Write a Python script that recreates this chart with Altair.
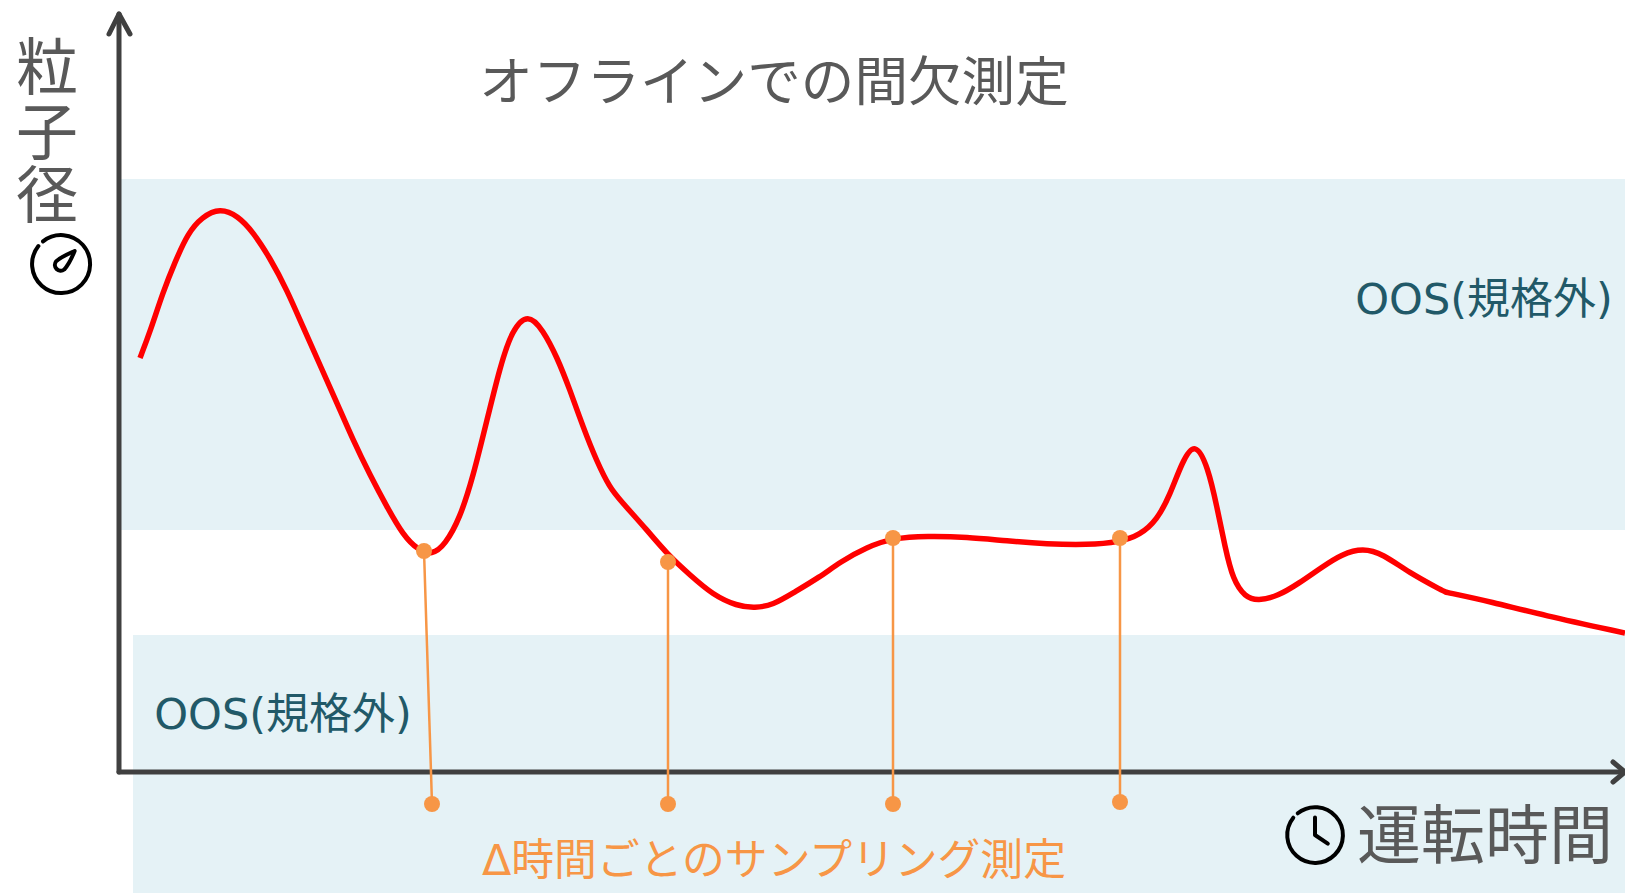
import altair as alt
import pandas as pd

CANVAS_W = 1625
CANVAS_H = 893

# Particle size trace over run time
trace_time = [140, 150, 163, 175, 188, 202, 220, 238, 253, 270, 287, 303, 320, 337, 353, 370, 387, 403,
              418, 432, 445, 460, 473, 487, 500, 512, 528, 543, 557, 570, 583, 597, 610, 620, 647, 668,
              690, 713, 737, 755, 773, 793, 820, 840, 867, 893, 927, 967, 1007, 1047, 1087, 1120, 1140,
              1157, 1170, 1182, 1195, 1208, 1217, 1225, 1233, 1245, 1258, 1278, 1298, 1322, 1342, 1363,
              1383, 1408, 1445, 1445, 1492, 1542, 1625]
trace_size = [535, 561, 601, 631, 660, 676, 685, 677, 661, 635, 603, 566, 528, 490, 453, 418, 386, 358,
              343, 338, 348, 375, 416, 473, 526, 563, 580, 563, 536, 503, 466, 431, 405, 393, 363, 338,
              318, 298, 287, 285, 288, 300, 316, 331, 346, 355, 357, 356, 352, 349, 348, 351, 358,
              373, 398, 431, 452, 426, 386, 346, 313, 296, 292, 297, 309, 326, 339, 345,
              339, 321, 301, 301, 291, 278, 260]

# Off-line samples: the reading on the trace and where each one lands below the time axis
sample_time = [424, 668, 893, 1120]
sample_size = [342, 331, 355, 355]
sample_foot_time = [432, 668, 893, 1120]
sample_foot_size = [89, 89, 89, 91]

# Out-of-specification zones
band_start = [118, 133]
band_end = [1625, 1625]
band_low = [363, 0]
band_high = [714, 258]

# Axis shafts and arrowheads
axis_id = ["v", "v", "h", "h", "vh", "vh", "vh", "hh", "hh", "hh"]
axis_time = [119, 119, 119, 1625, 109, 119, 130, 1613, 1625, 1613]
axis_size = [121, 879, 121, 121, 859, 879, 859, 131, 121, 111]

# Text
title_text = ["オフラインでの間欠測定"]
title_time = [774]
title_size = [808]
ylabel_chars = ["粒", "子", "径"]
ylabel_time = [47, 47, 47]
ylabel_size = [822, 757, 694]
xlabel_text = ["運転時間"]
xlabel_time = [1485]
xlabel_size = [54]
oos_text = ["OOS(規格外)", "OOS(規格外)"]
oos_time = [1484, 283]
oos_size = [592, 177]
sampling_text = ["Δ時間ごとのサンプリング測定"]
sampling_time = [774]
sampling_size = [31]

ICON_RING = "M -0.62 -0.78 A 1 1 0 1 1 -0.78 -0.62"
ICON_NEEDLE = ("M 0.47 -0.45 C 0.25 -0.35 0 -0.25 -0.17 -0.09 A 0.2 0.2 0 0 0 0.11 0.19 "
               "C 0.27 0.02 0.37 -0.2 0.47 -0.45 Z")
ICON_HANDS = "M 0 -0.63 L 0 0 L 0.46 0.31"

FONT = "DejaVu Sans, Noto Sans CJK JP"
GREY = "#595959"
TEAL = "#215968"
ORANGE = "#F79646"
BAND = "#E5F2F6"
AXIS = "#404040"

x_scale = alt.Scale(domain=[0, CANVAS_W], range=[0, CANVAS_W], nice=False, zero=False, clamp=False)
y_scale = alt.Scale(domain=[0, CANVAS_H], range=[CANVAS_H, 0], nice=False, zero=False, clamp=False)


def enc(t="time", s="size", **extra):
    return dict(
        x=alt.X(f"{t}:Q", scale=x_scale, axis=None),
        y=alt.Y(f"{s}:Q", scale=y_scale, axis=None),
        **extra,
    )


def label(texts, times, sizes, font_size, color):
    frame = pd.DataFrame({"time": times, "size": sizes, "label": texts})
    return (
        alt.Chart(frame)
        .mark_text(font=FONT, fontSize=font_size, color=color, align="center", baseline="middle")
        .encode(**enc(), text="label:N")
    )


def icon(time, size, path, area, width, color="black"):
    frame = pd.DataFrame({"time": [time], "size": [size]})
    return (
        alt.Chart(frame)
        .mark_point(shape=path, size=area, filled=False, stroke=color, strokeWidth=width,
                    strokeCap="round", strokeJoin="round", opacity=1)
        .encode(**enc())
    )


bands = (
    alt.Chart(pd.DataFrame({"start": band_start, "end": band_end, "low": band_low, "high": band_high}))
    .mark_rect(color=BAND, opacity=1)
    .encode(
        x=alt.X("start:Q", scale=x_scale, axis=None),
        x2="end:Q",
        y=alt.Y("low:Q", scale=y_scale, axis=None),
        y2="high:Q",
    )
)

axes = (
    alt.Chart(pd.DataFrame({"id": axis_id, "time": axis_time, "size": axis_size, "order": range(len(axis_id))}))
    .mark_line(color=AXIS, strokeWidth=5, strokeCap="round", strokeJoin="round")
    .encode(**enc(), detail="id:N", order="order:Q")
)

# The repeated point at 1445 keeps the corner in the tail of the trace
trace = (
    alt.Chart(pd.DataFrame({"time": trace_time, "size": trace_size, "order": range(len(trace_time))}))
    .mark_line(color="#FF0000", strokeWidth=5.5, interpolate="basis", clip=True)
    .encode(**enc(), order="order:Q")
)

samples = pd.DataFrame({
    "time": sample_time,
    "size": sample_size,
    "foot_time": sample_foot_time,
    "foot_size": sample_foot_size,
})
stems = (
    alt.Chart(samples)
    .mark_rule(color=ORANGE, strokeWidth=2.5)
    .encode(
        x=alt.X("time:Q", scale=x_scale, axis=None),
        y=alt.Y("size:Q", scale=y_scale, axis=None),
        x2="foot_time:Q",
        y2="foot_size:Q",
    )
)
top_dots = (
    alt.Chart(samples)
    .mark_circle(color=ORANGE, size=256, opacity=1)
    .encode(**enc())
)
foot_dots = (
    alt.Chart(samples)
    .mark_circle(color=ORANGE, size=256, opacity=1)
    .encode(**enc("foot_time", "foot_size"))
)

chart = (
    alt.layer(
        bands,
        axes,
        trace,
        stems,
        top_dots,
        foot_dots,
        label(title_text, title_time, title_size, 53.6, GREY),
        label(ylabel_chars, ylabel_time, ylabel_size, 62, GREY),
        label(xlabel_text, xlabel_time, xlabel_size, 64, GREY),
        label(oos_text, oos_time, oos_size, 43, TEAL),
        label(sampling_text, sampling_time, sampling_size, 42.8, ORANGE),
        icon(61, 629, ICON_RING, 3364, 4),
        icon(61, 629, ICON_NEEDLE, 3364, 4),
        icon(1315, 58, ICON_RING, 3100, 4),
        icon(1315, 58, ICON_HANDS, 3100, 4),
    )
    .properties(width=CANVAS_W, height=CANVAS_H, padding=0, autosize=alt.AutoSizeParams(type="none"))
    .configure_view(stroke=None)
)

chart.save("out.html", embed_options={"renderer": "svg", "actions": False})
